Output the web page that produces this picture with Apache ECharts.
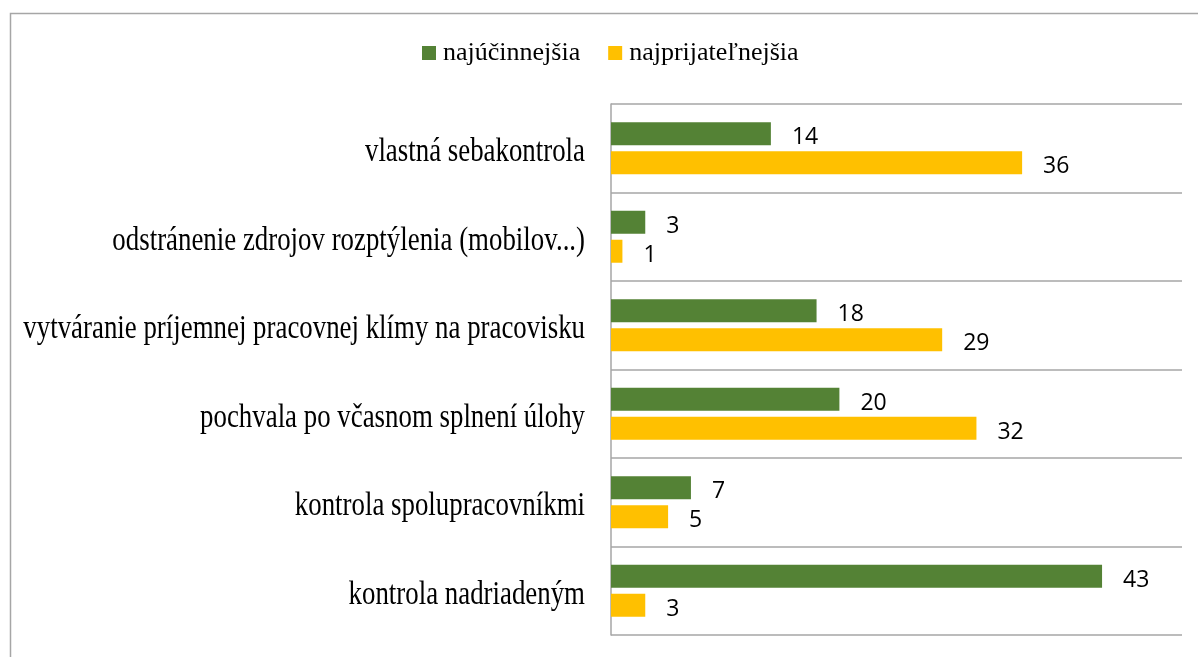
<!DOCTYPE html>
<html>
<head>
<meta charset="utf-8">
<script src="https://cdn.jsdelivr.net/npm/echarts@6/dist/echarts.min.js"></script>
<style>
html, body { margin: 0; padding: 0; background: #fff; }
#main { width: 1198px; height: 657px; }
</style>
</head>
<body>
<div id="main"></div>
<script>
var categories = [
    'vlastná sebakontrola',
    'odstránenie zdrojov rozptýlenia (mobilov...)',
    'vytváranie príjemnej pracovnej klímy na pracovisku',
    'pochvala po včasnom splnení úlohy',
    'kontrola spolupracovníkmi',
    'kontrola nadriadeným'
];
var najucinnejsia = [14, 3, 18, 20, 7, 43];
var najprijatelnejsia = [36, 1, 29, 32, 5, 3];

var myChart = echarts.init(document.getElementById('main'));

var valueLabel = {
    show: true,
    position: 'right',
    distance: 21,
    offset: [0, 4],
    color: '#000',
    fontSize: 23,
    fontFamily: 'Open Sans'
};

var option = {
    backgroundColor: '#fff',
    animation: false,
    // ramcek okolo grafu
    graphic: [{
        id: 'frame',
        type: 'rect',
        shape: { x: 10.5, y: 13.5, width: 1200, height: 700 },
        style: { fill: 'none', stroke: '#a6a6a6', lineWidth: 1.5 },
        silent: true
    }],
    legend: {
        data: ['najúčinnejšia', 'najprijateľnejšia'],
        top: 35,
        left: 417,
        itemWidth: 14,
        itemHeight: 14,
        itemGap: 28,
        icon: 'rect',
        textStyle: {
            color: '#000',
            fontSize: 26,
            padding: [0, 0, 0, 2],
            fontFamily: 'Liberation Serif'
        }
    },
    grid: {
        left: 611,
        right: 16,
        top: 104,
        bottom: 22,
        containLabel: false
    },
    xAxis: {
        type: 'value',
        min: 0,
        max: 50,
        show: false
    },
    yAxis: {
        type: 'category',
        data: categories,
        inverse: true,
        axisLine: { show: true, lineStyle: { color: '#a6a6a6', width: 1.5 } },
        axisTick: { show: false },
        splitLine: { show: true, lineStyle: { color: '#a6a6a6', width: 1.5 } },
        axisLabel: { show: false }
    },
    series: [{
        name: 'najúčinnejšia',
        type: 'bar',
        barWidth: 23,
        barGap: '26%',
        itemStyle: { color: '#548235' },
        label: valueLabel,
        data: najucinnejsia
    }, {
        name: 'najprijateľnejšia',
        type: 'bar',
        barWidth: 23,
        barGap: '26%',
        itemStyle: { color: '#ffc000' },
        label: valueLabel,
        data: najprijatelnejsia
    }]
};
myChart.setOption(option);

// popisky kategorii - uzsie, vyssie pismo (ako v originali)
var labelEls = categories.map(function (name, i) {
    var y = myChart.convertToPixel({ yAxisIndex: 0 }, name);
    return {
        id: 'cat' + i,
        type: 'text',
        x: 585,
        y: y + 4,
        scaleX: 0.79,
        silent: true,
        style: {
            text: name,
            align: 'right',
            verticalAlign: 'middle',
            fill: '#000',
            fontSize: 34,
            fontFamily: 'Liberation Serif'
        }
    };
});
myChart.setOption({ graphic: labelEls });
</script>
</body>
</html>
